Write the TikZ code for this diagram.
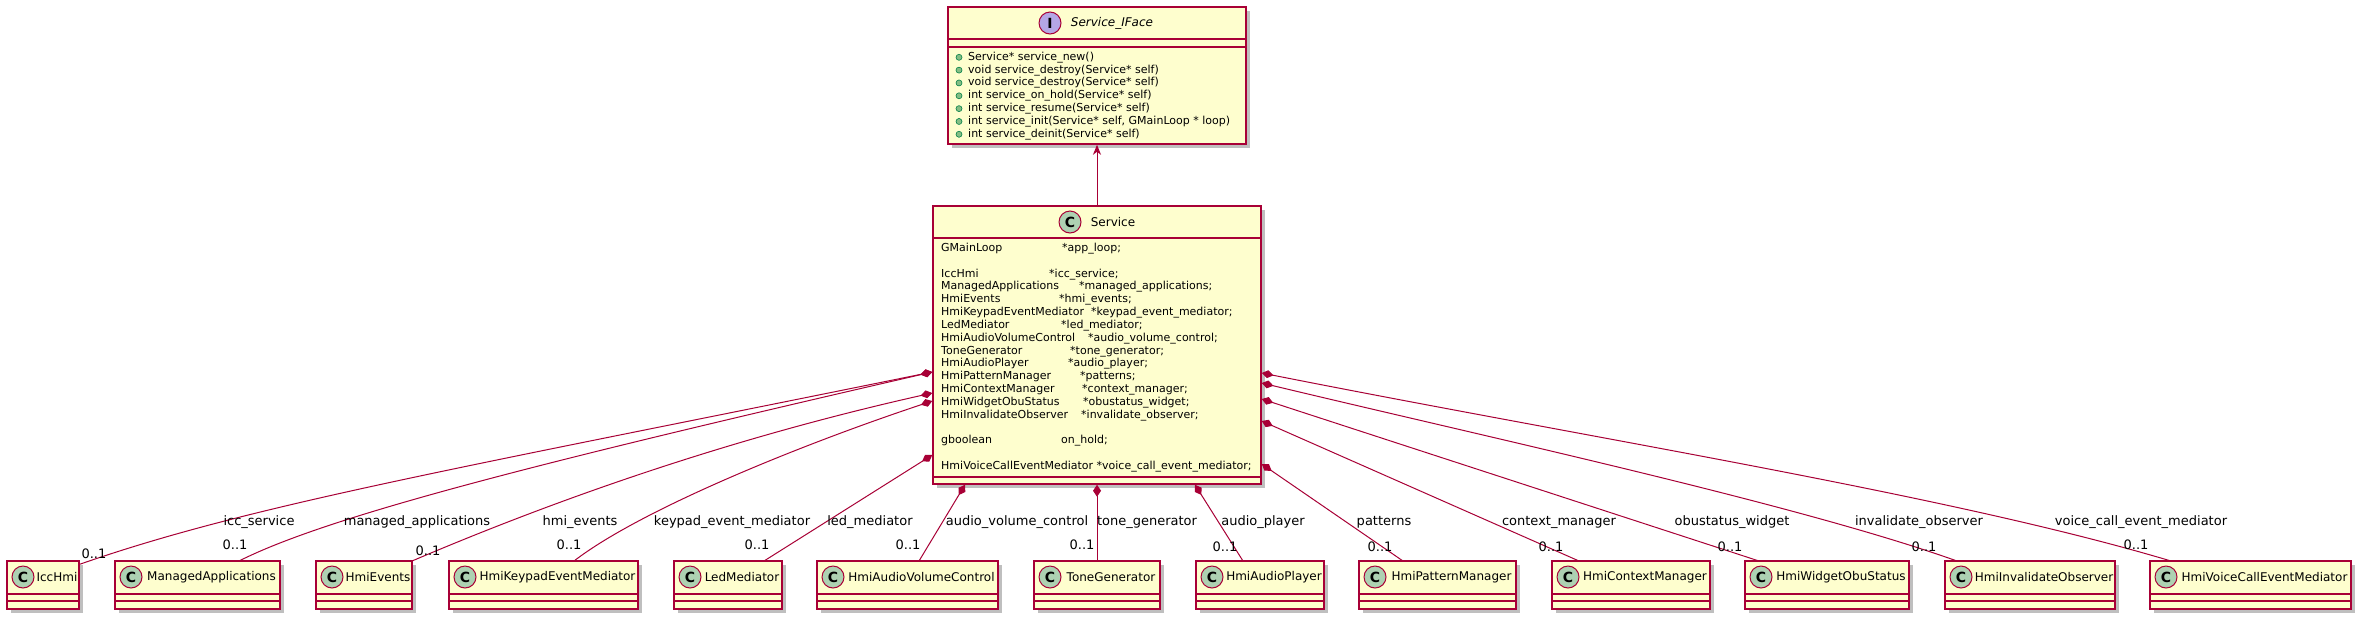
\documentclass[tikz,border=0pt]{standalone}
\usepackage{fontspec}
\setmainfont{DejaVu Sans}
\usetikzlibrary{arrows.meta,shadows}
\definecolor{UmlBorder}{HTML}{A80036}
\definecolor{UmlFill}{HTML}{FEFECE}
\definecolor{UmlClassMark}{HTML}{ADD1B2}
\definecolor{UmlIfaceMark}{HTML}{B4A7E5}
\definecolor{UmlPublic}{HTML}{84BE84}
\definecolor{UmlPublicEdge}{HTML}{038048}

\begin{document}
\begin{tikzpicture}[x=1pt,y=-1pt,
  clsbox/.style={draw=UmlBorder,fill=UmlFill,line width=1.5pt,inner sep=0pt,
    drop shadow={shadow xshift=4pt,shadow yshift=-4pt,opacity=0.25,fill=black}},
  part/.style={draw=UmlBorder,line width=1.5pt},
  classmark/.style={circle,draw=UmlBorder,fill=UmlClassMark,line width=1pt,minimum size=22pt,
    inner sep=0pt,font=\fontsize{14}{14}\selectfont\bfseries},
  clsname/.style={inner sep=0pt,font=\fontsize{12}{14}\selectfont},
  field/.style={anchor=west,inner sep=0pt,text height=8pt,text depth=2pt,font=\fontsize{11}{13}\selectfont},
  pubmark/.style={circle,draw=UmlPublicEdge,fill=UmlPublic,minimum size=6pt,inner sep=0pt,line width=0.6pt},
  role/.style={inner sep=0pt,text height=9pt,text depth=3pt,font=\fontsize{13}{15}\selectfont},
  comp/.style={draw=UmlBorder,line width=1pt,{Diamond[length=12pt,width=8pt]}-},
  implarrow/.style={draw=UmlBorder,line width=1pt,-{Stealth[length=10pt,width=8pt,inset=3pt]}}
]
  \fill[white] (0,0) rectangle (2364,622);
  \useasboundingbox (0,0) rectangle (2364,622);

  % Interface
  \node[clsbox,minimum width=298pt,minimum height=137pt] (iface) at (1097,75.5) {};
  \node[classmark,fill=UmlIfaceMark] (iface-mark) at (1050,23) {I};
  \node[clsname,font=\fontsize{12}{14}\selectfont\itshape] (iface-name) at (1112,23) {Service\_IFace};
  \draw[part] (948,39) -- (1246,39) (948,47) -- (1246,47);
  \foreach \k/\meth in {0/{Service* service\_new()},
                        1/{void service\_destroy(Service* self)},
                        2/{void service\_destroy(Service* self)},
                        3/{int service\_on\_hold(Service* self)},
                        4/{int service\_resume(Service* self)},
                        5/{int service\_init(Service* self, GMainLoop * loop)},
                        6/{int service\_deinit(Service* self)}} {
    \node[pubmark] (meth\k-mark) at (959,57.3+12.83*\k) {};
    \node[field] (meth\k) at (968,57.3+12.83*\k) {\meth};
  }

  % Service class
  \node[clsbox,minimum width=328pt,minimum height=278pt] (service) at (1097,345) {};
  \node[classmark] (service-mark) at (1070,222) {C};
  \node[clsname] (service-name) at (1113,222) {Service};
  \draw[part] (933,238) -- (1261,238) (933,477) -- (1261,477);
  \foreach \k/\ftype/\fx/\fname in {0/GMainLoop/1062/*app\_loop;,
      2/IccHmi/1049/*icc\_service;,
      3/ManagedApplications/1079/*managed\_applications;,
      4/HmiEvents/1059/*hmi\_events;,
      5/HmiKeypadEventMediator/1091/*keypad\_event\_mediator;,
      6/LedMediator/1061/*led\_mediator;,
      7/HmiAudioVolumeControl/1088/*audio\_volume\_control;,
      8/ToneGenerator/1070/*tone\_generator;,
      9/HmiAudioPlayer/1068/*audio\_player;,
      10/HmiPatternManager/1080/*patterns;,
      11/HmiContextManager/1082/*context\_manager;,
      12/HmiWidgetObuStatus/1083/*obustatus\_widget;,
      13/HmiInvalidateObserver/1081/*invalidate\_observer;,
      15/gboolean/1061/on\_hold;} {
    \node[field] (fld\k) at (941,248.4+12.83*\k) {\ftype};
    \node[field] (fld\k-name) at (\fx,248.4+12.83*\k) {\fname};
  }
  \node[field] (fld17) at (941,248.4+12.83*17) {HmiVoiceCallEventMediator *voice\_call\_event\_mediator;};

  % Parts (bottom row)
  \foreach \nm/\lft/\rgt/\txt/\att in {iccHmi/7/79/IccHmi/72,
      managedApps/115/280/ManagedApplications/124,
      hmiEvents/316/412/HmiEvents/96,
      keypadMediator/449/638/HmiKeypadEventMediator/125,
      ledMediator/674/782/LedMediator/90,
      volumeControl/817/998/HmiAudioVolumeControl/102,
      toneGen/1034/1160/ToneGenerator/63,
      audioPlayer/1196/1324/HmiAudioPlayer/47,
      patternMgr/1359/1516/HmiPatternManager/44,
      contextMgr/1552/1710/HmiContextManager/27,
      obuStatus/1745/1909/HmiWidgetObuStatus/14,
      invalidateObs/1945/2115/HmiInvalidateObserver/12,
      voiceCall/2150/2351/HmiVoiceCallEventMediator/21} {
    \node[clsbox,minimum width={(\rgt-\lft)*1pt},minimum height=48pt] (\nm) at ({(\lft+\rgt)/2},585) {};
    \draw[part] (\lft,594) -- (\rgt,594) (\lft,601) -- (\rgt,601);
    \node[classmark] (\nm-mark) at (\lft+16,577) {C};
    \node[clsname] (\nm-name) at ({(\lft+28+\rgt)/2},577) {\txt};
    \coordinate (\nm-in) at (\lft+\att,561);
  }

  % Attach points on Service
  \coordinate (srvL1) at ([yshift=-27pt]service.west);
  \coordinate (srvL2) at ([yshift=-48pt]service.west);
  \coordinate (srvL3) at ([yshift=-56pt]service.west);
  \coordinate (srvL4) at ([yshift=-110pt]service.west);
  \coordinate (srvB1) at ([xshift=-132pt]service.south);
  \coordinate (srvB2) at (service.south);
  \coordinate (srvB3) at ([xshift=98pt]service.south);
  \coordinate (srvR1) at ([yshift=-119pt]service.east);
  \coordinate (srvR2) at ([yshift=-76pt]service.east);
  \coordinate (srvR3) at ([yshift=-54pt]service.east);
  \coordinate (srvR4) at ([yshift=-38pt]service.east);
  \coordinate (srvR5) at ([yshift=-28pt]service.east);

  % Connectors
  \draw[implarrow] (service.north) -- (iface.south);
  \draw[comp] (srvL1) .. controls (450,470) and (250,505) .. ([yshift=-4pt]iccHmi.north east);
  \draw[comp] (srvL1) .. controls (550,460) and (330,515) .. (managedApps-in);
  \draw[comp] (srvL2) .. controls (700,445) and (520,515) .. (hmiEvents-in);
  \draw[comp] (srvL3) .. controls (800,445) and (640,510) .. (keypadMediator-in);
  \draw[comp] (srvL4) -- (ledMediator-in);
  \draw[comp] (srvB1) -- (volumeControl-in);
  \draw[comp] (srvB2) -- (toneGen-in);
  \draw[comp] (srvB3) -- (audioPlayer-in);
  \draw[comp] (srvR1) -- (patternMgr-in);
  \draw[comp] (srvR2) -- (contextMgr-in);
  \draw[comp] (srvR3) -- (obuStatus-in);
  \draw[comp] (srvR4) .. controls (1500,440) and (1800,505) .. (invalidateObs-in);
  \draw[comp] (srvR5) .. controls (1600,440) and (1950,495) .. (voiceCall-in);

  % Role names and multiplicities
  \foreach \nm/\rx/\role/\mx/\my in {iccHmi/259/icc\_service/94/555,
      managedApps/417/managed\_applications/235/546,
      hmiEvents/580/hmi\_events/428/552,
      keypadMediator/732/keypad\_event\_mediator/569/546,
      ledMediator/870/led\_mediator/757/546,
      volumeControl/1017/audio\_volume\_control/908/546,
      toneGen/1147/tone\_generator/1082/546,
      audioPlayer/1263/audio\_player/1225/548,
      patternMgr/1384/patterns/1380/548,
      contextMgr/1559/context\_manager/1551/548,
      obuStatus/1732/obustatus\_widget/1730/548,
      invalidateObs/1919/invalidate\_observer/1924/548,
      voiceCall/2141/voice\_call\_event\_mediator/2136/546} {
    \node[role] (\nm-role) at (\rx,522) {\role};
    \node[role] (\nm-mult) at (\mx,\my) {0..1};
  }
\end{tikzpicture}
\end{document}
